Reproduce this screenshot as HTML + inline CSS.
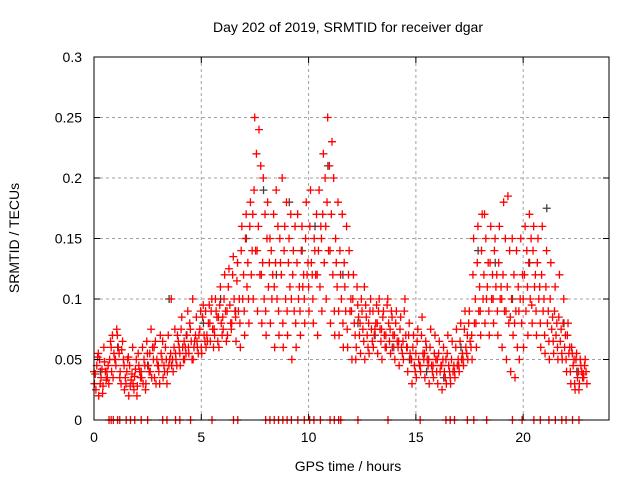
<!DOCTYPE html>
<html><head><meta charset="utf-8"><style>
body{margin:0;background:#fff}
svg{display:block;font-family:"Liberation Sans",sans-serif}
</style></head><body>
<svg id="chart" width="640" height="480" viewBox="0 0 640 480">
<rect width="640" height="480" fill="#fff"/>
<text x="348" y="32" text-anchor="middle" font-size="14">Day 202 of 2019, SRMTID for receiver dgar</text>
<text x="348" y="471" text-anchor="middle" font-size="14">GPS time / hours</text>
<text transform="translate(19,238) rotate(-90)" text-anchor="middle" font-size="14">SRMTID / TECUs</text>
<g id="grid"></g>
<g id="marks"></g>
<g id="axes"></g>
</svg>
<script>
const xTicks=[0,5,10,15,20];
const yTicks=[0,0.05,0.1,0.15,0.2,0.25,0.3];
const yTickLabels=["0","0.05","0.1","0.15","0.2","0.25","0.3"];
const binTimes=[0,0.2,0.4,0.6,0.8,1,1.2,1.4,1.6,1.8,2,2.2,2.4,2.6,2.8,3,3.2,3.4,3.6,3.8,4,4.2,4.4,4.6,4.8,5,5.2,5.4,5.6,5.8,6,6.2,6.4,6.6,6.8,7,7.2,7.4,7.6,7.8,8,8.2,8.4,8.6,8.8,9,9.2,9.4,9.6,9.8,10,10.2,10.4,10.6,10.8,11,11.2,11.4,11.6,11.8,12,12.2,12.4,12.6,12.8,13,13.2,13.4,13.6,13.8,14,14.2,14.4,14.6,14.8,15,15.2,15.4,15.6,15.8,16,16.2,16.4,16.6,16.8,17,17.2,17.4,17.6,17.8,18,18.2,18.4,18.6,18.8,19,19.2,19.4,19.6,19.8,20,20.2,20.4,20.6,20.8,21,21.2,21.4,21.6,21.8,22,22.2,22.4,22.6,22.8];
const binValues=[
[.03,.045,.038,.052,.025,.04],[.02,.035,.05,.042,.03,.055],[.028,.04,.06,.033,.048,.022],[.035,.05,.045,.065,.03,.04],[.04,.055,.07,.05,.035,.06],
[.045,.06,.075,.055,.07,.05],[.04,.065,.03,.05,.058,.035],[.025,.04,.035,.05,.03,.045],[.02,.033,.045,.038,.028,.052],[.03,.042,.025,.05,.036,.06],
[.028,.04,.055,.035,.045,.02],[.035,.05,.06,.045,.03,.04],[.03,.045,.065,.04,.055,.025],[.04,.06,.075,.05,.035,.055],[.035,.05,.065,.045,.03,.06],
[.04,.055,.03,.05,.07,.045],[.035,.06,.045,.05,.04,.065],[.04,.05,.07,.055,.045,.03],[.045,.06,.05,.075,.04,.1],[.05,.065,.045,.06,.07,.055],
[.045,.06,.075,.05,.085,.055],[.05,.07,.06,.09,.055,.065],[.055,.065,.08,.05,.075,.06],[.05,.07,.06,.085,.065,.1],[.06,.075,.055,.09,.07,.065],
[.055,.07,.085,.065,.095,.06],[.06,.08,.07,.095,.065,.09],[.065,.075,.09,.06,.1,.08],[.07,.085,.1,.065,.09,.075],[.06,.08,.095,.07,.11,.085],
[.075,.09,.1,.065,.12,.085],[.07,.095,.11,.08,.125,.09],[.08,.1,.12,.09,.135,.075],[.065,.09,.115,.1,.13,.085],[.06,.1,.14,.12,.16,.08],
[.07,.11,.15,.13,.17,.09],[.08,.12,.16,.14,.18,.1],[.1,.14,.19,.22,.25,.17],[.09,.12,.16,.21,.24,.14],[.08,.1,.13,.17,.2,.12],
[.07,.11,.15,.13,.18,.09],[.08,.12,.14,.17,.1,.15],[.06,.1,.13,.16,.19,.11],[.07,.12,.15,.2,.13,.09],[.06,.1,.14,.18,.16,.08],
[.07,.11,.13,.17,.15,.09],[.05,.09,.12,.16,.14,.1],[.06,.1,.13,.11,.17,.08],[.07,.11,.14,.12,.16,.09],[.08,.12,.15,.13,.18,.1],
[.09,.13,.16,.12,.19,.11],[.08,.12,.15,.17,.14,.1],[.07,.11,.14,.16,.19,.12],[.09,.13,.17,.2,.22,.15],[.1,.14,.18,.21,.25,.16],
[.08,.12,.17,.2,.23,.14],[.07,.11,.15,.18,.13,.09],[.07,.1,.14,.17,.12,.09],[.06,.09,.13,.16,.11,.08],[.06,.09,.12,.1,.14,.075],
[.05,.08,.1,.07,.12,.09],[.06,.085,.11,.07,.095,.05],[.055,.075,.1,.065,.09,.08],[.05,.07,.095,.06,.085,.11],[.055,.075,.09,.065,.1,.08],
[.06,.08,.07,.095,.075,.09],[.055,.075,.09,.065,.1,.08],[.05,.07,.085,.06,.09,.075],[.06,.08,.095,.065,.1,.07],[.055,.07,.09,.06,.085,.075],
[.05,.065,.08,.06,.09,.07],[.045,.06,.075,.055,.085,.065],[.05,.07,.09,.06,.1,.065],[.04,.055,.07,.05,.08,.06],[.03,.045,.06,.04,.07,.05],
[.035,.05,.065,.045,.075,.055],[.04,.055,.07,.05,.085,.045],[.035,.05,.065,.045,.06,.055],[.03,.045,.06,.04,.075,.05],[.035,.05,.055,.04,.07,.045],
[.03,.04,.055,.045,.065,.05],[.025,.04,.05,.035,.06,.045],[.03,.045,.055,.04,.07,.05],[.03,.04,.05,.045,.065,.035],[.035,.045,.06,.05,.075,.04],
[.04,.05,.065,.055,.08,.045],[.045,.06,.075,.055,.09,.05],[.05,.065,.08,.06,.09,.07],[.05,.08,.12,.1,.15,.07],[.06,.09,.13,.11,.16,.08],
[.07,.1,.14,.12,.17,.09],[.08,.11,.15,.13,.1,.17],[.07,.1,.13,.12,.16,.09],[.08,.11,.14,.12,.15,.1],[.07,.1,.13,.11,.16,.09],
[.06,.09,.12,.15,.18,.1],[.05,.08,.11,.14,.185,.09],[.04,.07,.1,.12,.15,.085],[.035,.06,.09,.11,.14,.08],[.05,.08,.1,.12,.15,.09],
[.06,.09,.12,.14,.16,.1],[.07,.1,.13,.15,.17,.11],[.08,.11,.14,.12,.16,.095],[.07,.1,.13,.11,.15,.09],[.06,.09,.12,.1,.16,.08],
[.055,.08,.11,.09,.14,.07],[.05,.075,.1,.085,.13,.065],[.055,.07,.09,.08,.11,.065],[.05,.065,.085,.075,.12,.06],[.05,.06,.08,.07,.1,.055],
[.04,.055,.07,.06,.08,.05],[.03,.045,.06,.05,.055,.04],[.025,.035,.05,.04,.055,.03],[.03,.04,.05,.035,.045,.025],[.035,.04,.045,.03,.05,.038]
];
const grayTimes=[0.3,1.1,2.5,3.5,4.3,5.1,5.9,6.6,7.1,7.9,8.5,9.1,9.7,10.3,10.9,11.6,12.3,13.1,13.9,14.7,15.5,16.3,17.1,17.9,18.7,19.5,20.3,21.1,21.9,22.5];
const grayValues=[0.04,0.06,0.045,0.1,0.07,0.08,0.1,0.09,0.15,0.19,0.12,0.18,0.14,0.16,0.21,0.12,0.08,0.07,0.06,0.05,0.04,0.035,0.06,0.14,0.13,0.1,0.13,0.175,0.08,0.04];
const zeroTimes=[0.7,0.8,0.9,1.1,1.2,1.5,1.7,1.9,2.2,2.5,3.2,3.4,3.8,4.0,4.5,5.5,6.5,6.7,8.0,8.2,8.4,8.6,8.8,9.0,9.2,9.5,9.8,10.05,10.25,10.55,11.0,11.2,11.4,11.5,12.3,13.7,15.2,16.4,16.6,16.8,17.4,17.7,18.3,19.5,19.95,20.5,20.8,21.2,21.5,21.8,22.0,22.3,22.6];

const X0=94,X1=609,Y0=420,Y1=57,XMAX=24,YMAX=0.3;
const OFFS=[0.02,0.13,0.06,0.17,0.09,0.0];
function xs(t){return X0+(X1-X0)*t/XMAX;}
function ys(v){return Y0-(Y0-Y1)*v/YMAX;}
const NS="http://www.w3.org/2000/svg";
function mk(tag,attrs,parent){const e=document.createElementNS(NS,tag);for(const k in attrs)e.setAttribute(k,attrs[k]);parent.appendChild(e);return e;}
const grid=document.getElementById('grid'),marks=document.getElementById('marks'),axes=document.getElementById('axes');
xTicks.forEach(t=>{
  if(t>0){const g=mk('line',{x1:xs(t),x2:xs(t),y1:Y0,y2:Y1,stroke:'#a0a0a0','stroke-dasharray':'3,3'},grid);
  
  }
  const tk=mk('path',{d:`M${xs(t)},${Y0}v-6M${xs(t)},${Y1}v6`,stroke:'#000'},axes);
  
  
  const lb=mk('text',{x:xs(t),y:Y0+22,'text-anchor':'middle','font-size':14},axes);lb.textContent=String(t);
  
  
});
yTicks.forEach((v,i)=>{
  if(v>0&&v<YMAX){const g=mk('line',{x1:X0,x2:X1,y1:ys(v),y2:ys(v),stroke:'#a0a0a0','stroke-dasharray':'3,3'},grid);
  
  }
  const tk=mk('path',{d:`M${X0},${ys(v)}h6M${X1},${ys(v)}h-6`,stroke:'#000'},axes);
  
  
  const lb=mk('text',{x:X0-12,y:ys(v)+5,'text-anchor':'end','font-size':14},axes);lb.textContent=yTickLabels[i];
  
  
});
const frame=mk('rect',{x:X0,y:Y1,width:X1-X0,height:Y0-Y1,fill:'none',stroke:'#000'},axes);


function cross(t,v,color,name){
  const x=xs(t),y=ys(v);
  const p=mk('path',{d:`M${x-4},${y}h8M${x},${y-4}v8`,stroke:color,'stroke-width':1.3},marks);
  
  
}
grayTimes.forEach((t,i)=>cross(t,grayValues[i],'#404040','gray-point'));
binTimes.forEach((t,i)=>{binValues[i].forEach((v,k)=>cross(t+OFFS[k],v,'#ff0000','red-point'));});
zeroTimes.forEach(t=>cross(t,0,'#ff0000','zero-point'));
</script>
</body></html>
